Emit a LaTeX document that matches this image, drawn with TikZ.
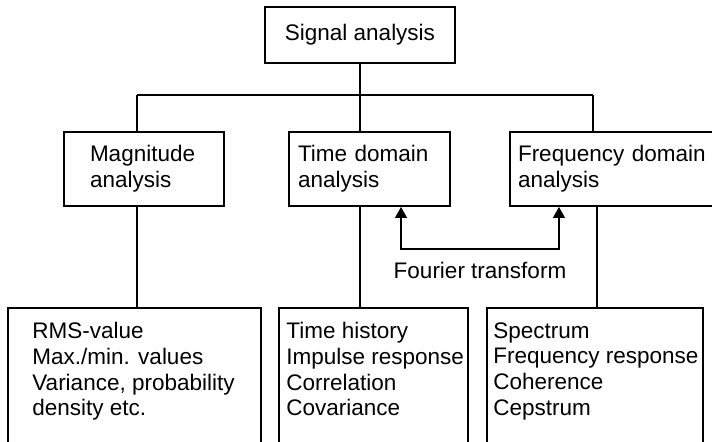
\documentclass[tikz,border=0pt]{standalone}
\usepackage{fontspec}
\setmainfont{Liberation Sans}
\usetikzlibrary{arrows.meta,positioning,calc}

\begin{document}
\begin{tikzpicture}[x=0.5pt,y=-0.5pt,font=\fontsize{11.25}{12.85}\selectfont,
    box/.style={draw,line width=1pt,inner sep=0pt},
    subbox/.style={box,align=left,minimum height=37pt},
    resbox/.style={box,anchor=north west,minimum height=80pt},
    reslist/.style={anchor=north west,align=left,inner sep=0pt},
    link/.style={line width=1pt},
    thinlink/.style={line width=0.7pt}]
  \useasboundingbox (0,0) rectangle (712,442);
  \clip (0,0) rectangle (712,442);
  % top level
  \node[box,minimum width=95pt,minimum height=28pt] (top) at (360,35) {Signal analysis};
  % the three kinds of analysis
  \node[subbox,text width=54pt,inner xsep=13pt] (mag) at (144,169) {Magnitude\\analysis};
  \node[subbox,text width=71.5pt,inner xsep=4.5pt] (time) at (369.5,169) {Time domain\\analysis};
  \node[subbox,text width=97pt,inner xsep=4pt] (freq) at (615,169) {Frequency domain\\analysis};
  % results
  \node[resbox,minimum width=126.5pt] (magres) at (7,307) {};
  \node[reslist] (magitems) at ($(magres.north west)+(25,15)$) {RMS-value\\Max./min. values\\Variance, probability\\density etc.};
  \node[resbox,minimum width=94.5pt] (timeres) at (278,307) {};
  \node[reslist] (timeitems) at ($(timeres.north west)+(8,15)$) {Time history\\Impulse response\\Correlation\\Covariance};
  \node[resbox,minimum width=108pt] (freqres) at (486,307) {};
  \node[reslist] (freqitems) at ($(freqres.north west)+(7,15)$) {Spectrum\\Frequency response\\Coherence\\Cepstrum};
  % tree
  \coordinate (magdrop) at (137,95);
  \coordinate (freqdrop) at (593,95);
  \coordinate (freqlow) at (597,250);
  \draw[link] (top.south) -- (top.south |- time.north);
  \draw[link] (magdrop) -- (freqdrop);
  \draw[link] (magdrop) -- (magdrop |- mag.north);
  \draw[link] (freqdrop) -- (freqdrop |- freq.north);
  \draw[thinlink] (magdrop |- mag.south) -- (magdrop |- magres.north);
  \draw[thinlink] (top.south |- time.south) -- (top.south |- timeres.north);
  \draw[thinlink] (freqlow |- freq.south) -- (freqlow |- freqres.north);
  % Fourier transform
  \coordinate (ftl) at (401,249);
  \coordinate (ftr) at (559,249);
  \draw[thinlink,{Triangle[length=5.5pt,width=6pt]}-{Triangle[length=5.5pt,width=6pt]}] (ftl |- time.south) -- (ftl) -- (ftr) -- (ftr |- freq.south);
  \node (ftlabel) at (480,270) {Fourier transform};
\end{tikzpicture}
\end{document}
